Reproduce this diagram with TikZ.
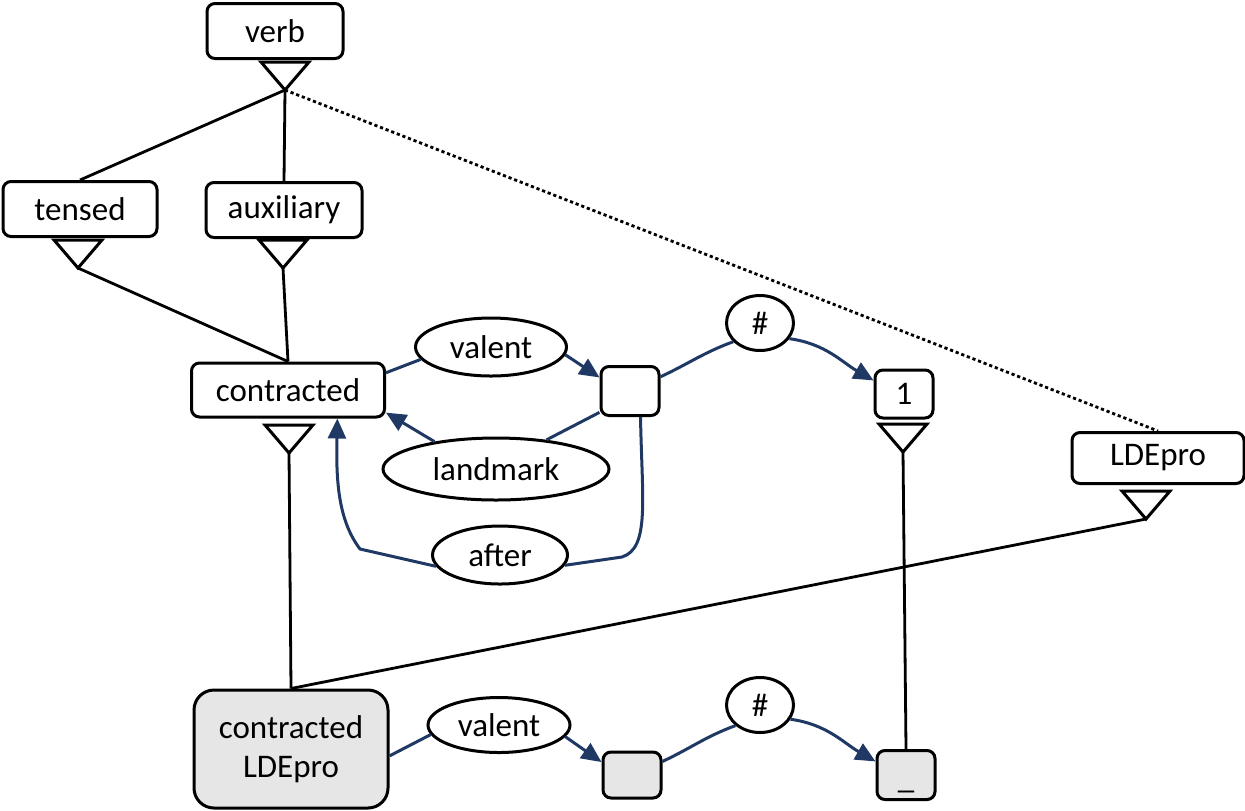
\documentclass[tikz,border=0pt]{standalone}
\usepackage{fontspec}
\setmainfont{Carlito}
\usetikzlibrary{arrows.meta,shapes.geometric}
\definecolor{LinkBlue}{HTML}{1F3864}
\definecolor{TokenGrey}{HTML}{E6E6E6}

% isa triangle hanging below a box: name of apex, x, y
\newcommand{\isa}[3]{%
  \coordinate (#1) at (#2,#3);
  \draw[isa] (#1) -- ++(-24,-28) -- ++(48,0) -- cycle;}

\begin{document}
\begin{tikzpicture}[x=0.5pt, y=-0.5pt, >={Triangle[length=10pt,width=9pt]},
    every node/.style={font=\fontsize{16.5}{19.5}\selectfont, inner sep=0pt},
    wordbox/.style={draw, line width=1.5pt, rounded corners=4pt},
    relation/.style={draw, ellipse, line width=1.5pt},
    isa/.style={line width=1.5pt, line join=miter},
    isaline/.style={line width=1.4pt},
    link/.style={LinkBlue, line width=1.5pt}]
    \useasboundingbox (0,0) rectangle (1245,810);

    % Class hierarchy
    \node[wordbox, minimum width=68pt, minimum height=27.5pt] (verb) at (275,31) {verb};
    \node[wordbox, minimum width=77pt, minimum height=27.5pt] (tensed) at (80,209) {tensed};
    \node[wordbox, minimum width=78pt, minimum height=27.5pt] (aux) at (284,210) {auxiliary};
    \node[wordbox, minimum width=96.5pt, minimum height=27pt] (contracted) at (288,390) {contracted};
    \node[wordbox, minimum width=86pt, minimum height=25.5pt] (ldepro) at (1158,458) {LDEpro};

    % Isa triangles
    \isa{verbT}{285}{90}
    \isa{tensedT}{78}{268}
    \isa{auxT}{283}{268}
    \isa{contractedT}{289}{453}
    \isa{ldeproT}{1146}{519}

    % Isa links
    \draw[isaline] (verbT) -- (tensed.north);
    \draw[isaline] (verbT) -- (aux.north);
    \draw[isaline, dash pattern=on 1.6pt off 1.4pt] (verbT) -- (ldepro.north);
    \draw[isaline] (tensedT) -- (contracted.north);
    \draw[isaline] (auxT) -- (contracted.north);

    % Relations of the contracted verb
    \node[relation, minimum width=75.5pt, minimum height=29pt] (valent) at (491,347) {valent};
    \node[wordbox, minimum width=29pt, minimum height=24.5pt] (dep) at (630,391) {};
    \node[relation, minimum width=113pt, minimum height=31pt] (landmark) at (496,469) {landmark};
    \node[relation, minimum width=67.5pt, minimum height=29pt] (after) at (500,555) {after};
    \node[relation, minimum width=33.5pt, minimum height=27.5pt] (hash) at (760,323) {\#};
    \node[wordbox, minimum width=29pt, minimum height=24pt] (one) at (904,394) {1};
    \isa{oneT}{903}{452}

    \draw[link] (contracted.10) -- (valent.190);
    \draw[link, ->] (valent.-6) -- (dep.156);
    \draw[link] (dep.215) -- (landmark.30);
    \draw[link, ->] (landmark.156) -- (contracted.-13);
    \draw[link] (dep.-68) .. controls (642,500) and (650,548) .. (622,557) -- (after.-9);
    \draw[link, ->] (after.190) -- (360,549) .. controls (338,520) and (336,480) .. (contracted.-30);
    \draw[link] (dep.25) to[out=25, in=200] (hash.215);
    \draw[link, ->] (hash.-28) to[out=-8, in=150] (one.156);

    % Token: contracted LDEpro
    \node[wordbox, fill=TokenGrey, rounded corners=10pt, minimum width=97pt, minimum height=59pt,
        align=center] (token) at (291,749) {contracted\\LDEpro};
    \node[relation, minimum width=71pt, minimum height=27.5pt] (valent2) at (499,725) {valent};
    \node[wordbox, fill=TokenGrey, minimum width=29pt, minimum height=23pt] (dep2) at (632,775) {};
    \node[relation, minimum width=33.5pt, minimum height=27.5pt] (hash2) at (760,705) {\#};
    \node[wordbox, fill=TokenGrey, minimum width=29pt, minimum height=24.5pt,
        text height=13pt, text depth=0pt] (blank) at (906,775) {\_};

    \draw[isaline] (contractedT) -- (token.north);
    \draw[isaline] (ldeproT) -- (token.north);
    \draw[isaline] (oneT) -- (blank.north);

    \draw[link] (token.-4) -- (valent2.188);
    \draw[link, ->] (valent2.-10) -- (dep2.157);
    \draw[link] (dep2.24) to[out=25, in=200] (hash2.220);
    \draw[link, ->] (hash2.-25) to[out=-8, in=150] (blank.156);
\end{tikzpicture}
\end{document}
